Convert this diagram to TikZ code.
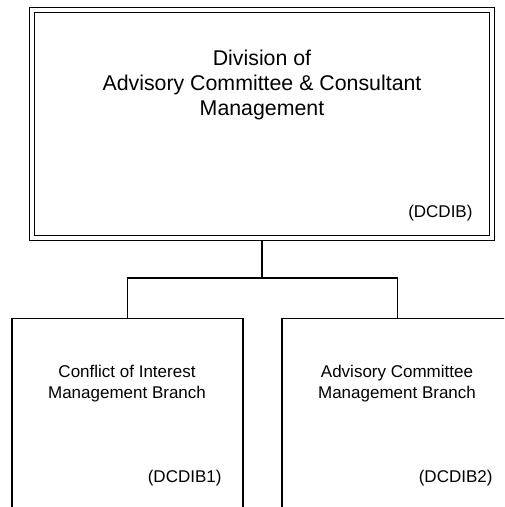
\documentclass[tikz,border=0pt]{standalone}
\usepackage{fontspec}
\setmainfont{Liberation Sans}

\tikzset{every picture/.style={line width=0.75pt}}
\tikzset{
  divbox/.style={draw, double, double distance=2.55pt, line width=1.2pt, inner sep=0pt},
  branchbox/.style={draw, line width=1.2pt, inner sep=0pt, anchor=north},
  titletext/.style={align=center, inner sep=0pt, font=\fontsize{16}{19}\selectfont},
  branchtext/.style={align=center, inner sep=0pt, font=\fontsize{12.75}{15.75}\selectfont},
  codetext/.style={anchor=base east, inner sep=0pt, font=\fontsize{12.75}{15.75}\selectfont},
  link/.style={line width=1.2pt}
}

\begin{document}
\begin{tikzpicture}[x=0.75pt,y=0.75pt,yscale=-1,xscale=1]
\useasboundingbox (0,0) rectangle (504,507);
\clip (0,0) rectangle (504,507);

%Division box
\node[divbox, minimum width=345pt, minimum height=171pt] (div) at (262,124) {};
% Text Node
\node[titletext] (divname) at (262,85) {Division of\\Advisory Committee \& Consultant\\Management};
% Text Node
\node[codetext] (divcode) at (473,217) {(DCDIB)};

%Branch boxes
\node[branchbox, minimum width=173.25pt, minimum height=180pt] (cib) at (127.5,317.5) {};
\node[branchbox, minimum width=173.25pt, minimum height=180pt] (acb) at (397.5,317.5) {};
% Text Node
\node[branchtext] (cibname) at (127,384) {Conflict of Interest\\Management Branch};
% Text Node
\node[branchtext] (acbname) at (397,384) {Advisory Committee\\Management Branch};
% Text Node
\node[codetext] (cibcode) at (222,482) {(DCDIB1)};
% Text Node
\node[codetext] (acbcode) at (493,482) {(DCDIB2)};

%Connectors
\coordinate (split) at (262,278);
\draw[link, shorten <=2pt] (div.south) -- (split);
\draw[link] (split) -| (cib.north);
\draw[link] (split) -| (acb.north);

\end{tikzpicture}
\end{document}
